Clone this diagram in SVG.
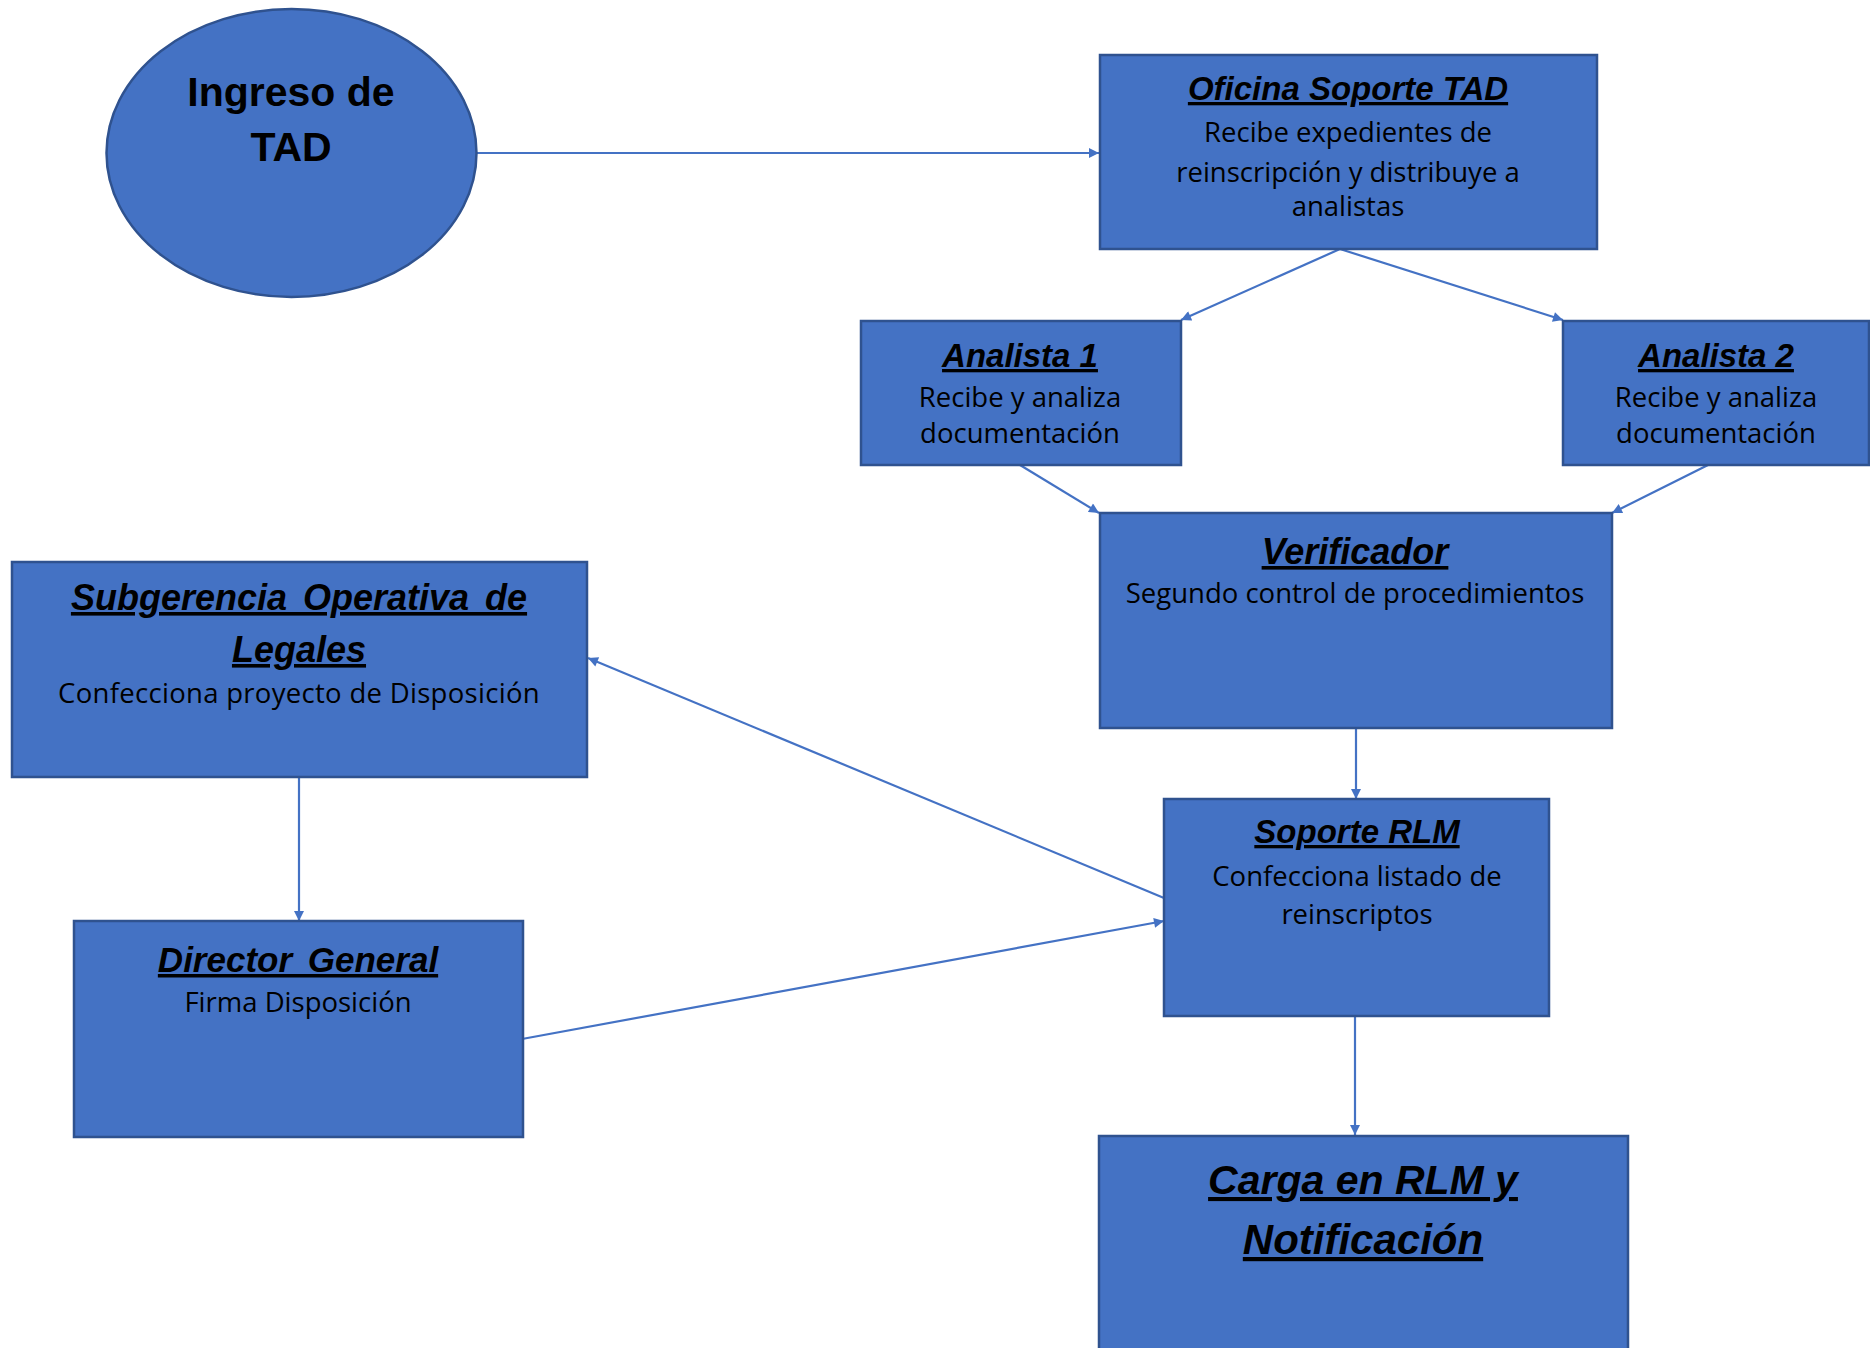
<svg xmlns="http://www.w3.org/2000/svg" width="1870" height="1348" viewBox="0 0 1870 1348">
<defs>
<marker id="arr" viewBox="0 0 10 10" refX="10" refY="5" markerWidth="11" markerHeight="10" markerUnits="userSpaceOnUse" orient="auto">
<path d="M0,0 L10,5 L0,10 Z" fill="#4472C4"/>
</marker>
<style>
.box{fill:#4472C4;stroke:#2F528F;stroke-width:2.5}
.t{font-family:"Liberation Sans",Arial,sans-serif;font-weight:bold;font-style:italic;text-decoration:underline;fill:#000;text-anchor:middle}
.b{font-family:"Open Sans","Noto Sans",sans-serif;font-size:27.5px;fill:#000;text-anchor:middle}
.c{stroke:#4472C4;stroke-width:2.2;fill:none;marker-end:url(#arr)}
.e{font-family:"Liberation Sans",Arial,sans-serif;font-weight:bold;font-size:41px;fill:#000;text-anchor:middle}
</style>
</defs>
<rect width="1870" height="1348" fill="#fff"/>
<g id="connectors">
<line class="c" x1="477" y1="153" x2="1099" y2="153"/>
<line class="c" x1="1340" y1="249" x2="1181" y2="320"/>
<line class="c" x1="1340" y1="249" x2="1563" y2="320"/>
<line class="c" x1="1020" y1="465" x2="1099" y2="513"/>
<line class="c" x1="1708" y1="465" x2="1612" y2="513"/>
<line class="c" x1="1356" y1="728" x2="1356" y2="799"/>
<line class="c" x1="1164" y1="898" x2="588" y2="658"/>
<line class="c" x1="299" y1="777" x2="299" y2="921"/>
<line class="c" x1="522" y1="1039" x2="1164" y2="921"/>
<line class="c" x1="1355" y1="1016" x2="1355" y2="1135"/>
</g>
<g id="ingreso">
<ellipse class="box" cx="291.5" cy="153" rx="185" ry="144"/>
<text class="e" x="291" y="106">Ingreso de</text>
<text class="e" x="291" y="161">TAD</text>
</g>
<g id="oficina">
<rect class="box" x="1100" y="55" width="497" height="194"/>
<text class="t" x="1348" y="100" font-size="33">Oficina Soporte TAD</text>
<text class="b" x="1348" y="142">Recibe expedientes de</text>
<text class="b" x="1348" y="182">reinscripción y distribuye a</text>
<text class="b" x="1348" y="216">analistas</text>
</g>
<g id="analista1">
<rect class="box" x="861" y="321" width="320" height="144"/>
<text class="t" x="1020" y="367" font-size="33">Analista 1</text>
<text class="b" x="1020" y="407">Recibe y analiza</text>
<text class="b" x="1020" y="443">documentación</text>
</g>
<g id="analista2">
<rect class="box" x="1563" y="321" width="306" height="144"/>
<text class="t" x="1716" y="367" font-size="33">Analista 2</text>
<text class="b" x="1716" y="407">Recibe y analiza</text>
<text class="b" x="1716" y="443">documentación</text>
</g>
<g id="verificador">
<rect class="box" x="1100" y="513" width="512" height="215"/>
<text class="t" x="1355" y="564" font-size="36">Verificador</text>
<text class="b" x="1355" y="603">Segundo control de procedimientos</text>
</g>
<g id="subgerencia">
<rect class="box" x="12" y="562" width="575" height="215"/>
<text class="t" x="299" y="610" font-size="36" word-spacing="6">Subgerencia Operativa de</text>
<text class="t" x="299" y="662" font-size="36">Legales</text>
<text class="b" x="299" y="703" letter-spacing="0.3">Confecciona proyecto de Disposición</text>
</g>
<g id="soporte-rlm">
<rect class="box" x="1164" y="799" width="385" height="217"/>
<text class="t" x="1357" y="843" font-size="33">Soporte RLM</text>
<text class="b" x="1357" y="886">Confecciona listado de</text>
<text class="b" x="1357" y="924">reinscriptos</text>
</g>
<g id="director">
<rect class="box" x="74" y="921" width="449" height="216"/>
<text class="t" x="298" y="972" font-size="35" word-spacing="6">Director General</text>
<text class="b" x="298" y="1012">Firma Disposición</text>
</g>
<g id="carga">
<rect class="box" x="1099" y="1136" width="529" height="230"/>
<text class="t" x="1363" y="1194" font-size="41">Carga en RLM y</text>
<text class="t" x="1363" y="1254" font-size="42">Notificación</text>
</g>
</svg>
